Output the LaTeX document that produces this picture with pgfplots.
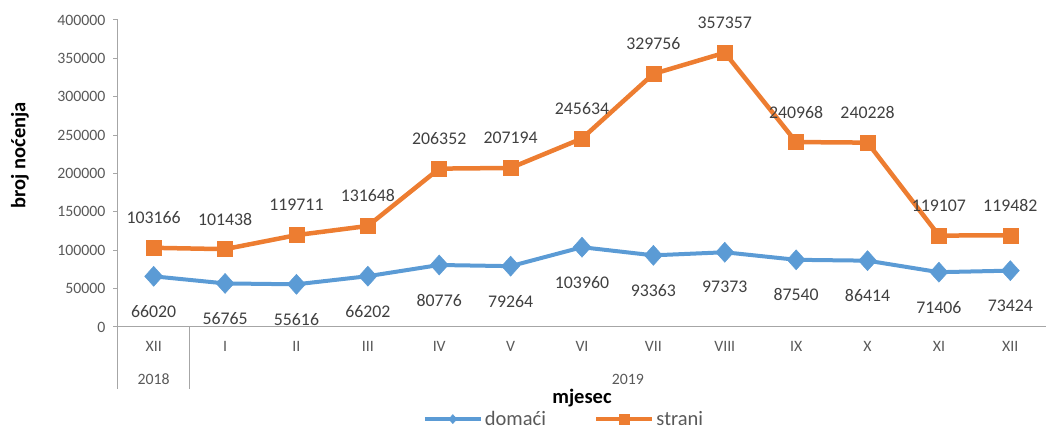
\documentclass[border=0pt]{standalone}
\usepackage{pgfplots}
\pgfplotsset{compat=1.18}
\usepackage{fontspec}
\setmainfont{Carlito}
\definecolor{cblue}{HTML}{5B9BD5}
\definecolor{corange}{HTML}{ED7D31}
\definecolor{ctick}{HTML}{595959}
\definecolor{ctext}{HTML}{404040}
\definecolor{cline}{HTML}{A6A6A6}
\begin{document}
\begin{tikzpicture}
\path[use as bounding box] (0pt,0pt) rectangle (1061pt,430pt);
\begin{axis}[
  at={(118pt,103pt)}, anchor=south west,
  scale only axis, width=928pt, height=307pt,
  xmin=-0.5, xmax=12.5, ymin=0, ymax=400000,
  ytick={0,50000,...,400000},
  xtick={0,...,12},
  xticklabels={XII,I,II,III,IV,V,VI,VII,VIII,IX,X,XI,XII},
  scaled y ticks=false,
  axis x line*=bottom, axis y line*=left,
  axis line style={cline, line width=1pt},
  tick align=outside, major tick length=5pt,
  ytick style={cline, line width=1pt},
  xtick style={draw=none},
  yticklabel style={font=\fontsize{15.8}{18}\selectfont, text=ctick, xshift=-4pt},
  xticklabel style={font=\fontsize{15.8}{18}\selectfont, text=ctick, yshift=-6pt},
  /pgf/number format/.cd, fixed, 1000 sep={}, assume math mode=true,
  /pgfplots/.cd,
  xlabel={mjesec},
  xlabel style={at={(axis description cs:0.5,-0.231)}, anchor=center, font=\bfseries\fontsize{20.5}{22}\selectfont, text=black},
  ylabel={broj noćenja},
  ylabel style={at={(axis description cs:-0.1056,0.56)}, anchor=center, font=\bfseries\fontsize{20.5}{22}\selectfont, text=black},
  clip=false,
  legend columns=2,
  legend style={at={(axis description cs:0.4806,-0.300)}, anchor=center, draw=none, fill=none,
    font=\fontsize{20.5}{22}\selectfont, text=ctick,
    nodes={inner xsep=2pt, inner ysep=0pt},
    /tikz/every even column/.append style={column sep=46pt}},
  legend image code/.code={\draw[mark repeat=2,mark phase=2] plot coordinates {(0pt,0pt) (28pt,0pt) (56pt,0pt)};},
  point meta=explicit symbolic,
  nodes near coords,
]
\addplot[cblue, line width=4pt, mark=diamond*, mark size=10pt, mark options={solid, line width=0.5pt, xscale=1.2},
  legend image code/.code={\draw[mark repeat=2,mark phase=2, mark size=4.5pt] plot coordinates {(0pt,0pt) (28pt,0pt) (56pt,0pt)};},
  every node near coord/.append style={font=\fontsize{17.8}{20}\selectfont, text=ctext, anchor=center, yshift=-35pt}]
  coordinates {
  (0,66020) [66020] (1,56765) [56765] (2,55616) [55616] (3,66202) [66202]
  (4,80776) [80776] (5,79264) [79264] (6,103960) [103960] (7,93363) [93363]
  (8,97373) [97373] (9,87540) [87540] (10,86414) [86414] (11,71406) [71406]
  (12,73424) [73424]};
\addlegendentry{domaći}
\addplot[corange, line width=4.5pt, mark=square*, mark size=7.5pt, mark options={solid, line width=0.5pt},
  legend image code/.code={\draw[mark repeat=2,mark phase=2, mark size=5pt] plot coordinates {(0pt,0pt) (28pt,0pt) (56pt,0pt)};},
  every node near coord/.append style={font=\fontsize{17.8}{20}\selectfont, text=ctext, anchor=center, yshift=30pt}]
  coordinates {
  (0,103166) [103166] (1,101438) [101438] (2,119711) [119711] (3,131648) [131648]
  (4,206352) [206352] (5,207194) [207194] (6,245634) [245634] (7,329756) [329756]
  (8,357357) [357357] (9,240968) [240968] (10,240228) [240228] (11,119107) [119107]
  (12,119482) [119482]};
\addlegendentry{strani}
\draw[cline, line width=1pt] (axis cs:-0.5,0) -- ++(0pt,-62pt);
\draw[cline, line width=1pt] (axis cs:0.5,0) -- ++(0pt,-62pt);
\node[font=\fontsize{15.8}{18}\selectfont, text=ctick] at (axis cs:0,0) [yshift=-52pt] {2018};
\node[font=\fontsize{15.8}{18}\selectfont, text=ctick] at (axis cs:6.644,0) [yshift=-52pt] {2019};
\end{axis}
\end{tikzpicture}
\end{document}
